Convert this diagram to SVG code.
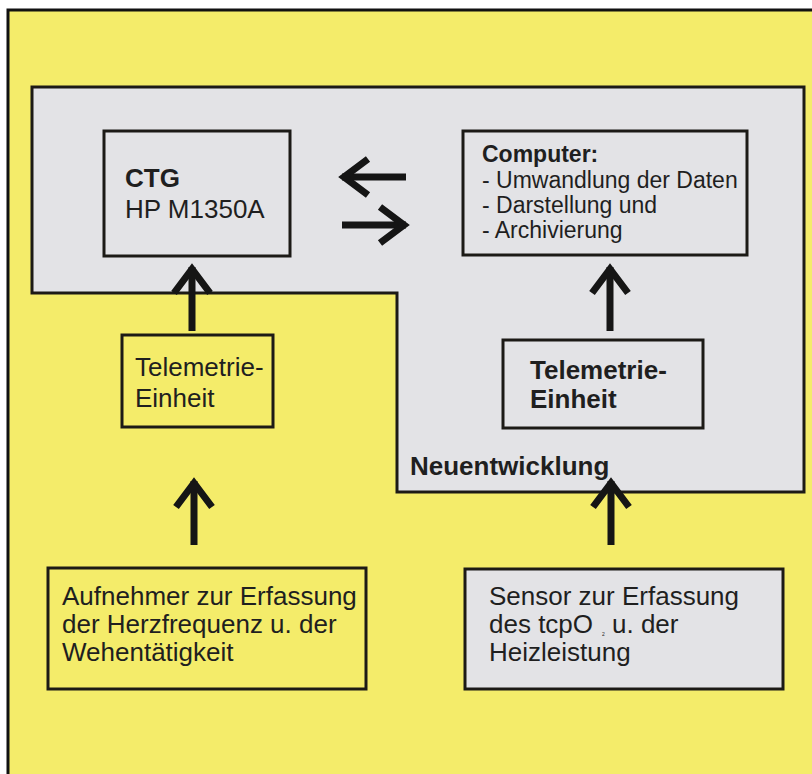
<svg xmlns="http://www.w3.org/2000/svg" xmlns:xlink="http://www.w3.org/1999/xlink" width="812" height="774" viewBox="0 0 812 774">
<style>
.box{stroke:#1c1a16;stroke-width:3;}
.y{fill:#f4ec6a;}
.g{fill:#e3e3e6;}
text{font-family:"Liberation Sans",Arial,sans-serif;fill:#1f1f1f;}
.t{font-size:26px;}
.tb{font-size:26px;font-weight:bold;}
.s{font-size:23px;}
.sb{font-size:23px;font-weight:bold;}
.sub{font-size:5px;}
.arr{stroke:#151515;stroke-width:7;fill:none;stroke-linejoin:miter;stroke-miterlimit:10;}
</style>
<defs>
<g id="arrowUp">
<path class="arr" d="M0,4 L0,68"/>
<path class="arr" d="M-18,30 L0,6 L18,30"/>
</g>
</defs>
<rect x="0" y="0" width="812" height="774" fill="#ffffff"/>
<rect id="background" x="8" y="10" width="812" height="770" class="y" stroke="#111" stroke-width="3"/>
<g id="neuentwicklung">
<path class="box g" d="M32,87 L804,87 L804,492 L397,492 L397,293 L32,293 Z"/>
<text class="tb" x="410" y="475">Neuentwicklung</text>
</g>
<g id="ctg">
<rect class="box g" x="104" y="131" width="186" height="125"/>
<text class="tb" x="125" y="187">CTG</text>
<text class="t" x="125" y="218">HP M1350A</text>
</g>
<g id="computer">
<rect class="box g" x="463" y="131" width="284" height="124"/>
<text class="sb" x="482" y="162">Computer:</text>
<text class="s" x="482" y="188">- Umwandlung der Daten</text>
<text class="s" x="482" y="213">- Darstellung und</text>
<text class="s" x="482" y="238">- Archivierung</text>
</g>
<g id="telemetrie-links">
<rect class="box y" x="122" y="335" width="151" height="92"/>
<text class="t" x="135" y="376">Telemetrie-</text>
<text class="t" x="135" y="407">Einheit</text>
</g>
<g id="telemetrie-rechts">
<rect class="box g" x="503" y="340" width="200" height="88"/>
<text class="tb" x="530" y="379">Telemetrie-</text>
<text class="tb" x="530" y="408">Einheit</text>
</g>
<g id="aufnehmer">
<rect class="box y" x="48" y="568" width="318" height="121"/>
<text class="t" x="62" y="605">Aufnehmer zur Erfassung</text>
<text class="t" x="62" y="633">der Herzfrequenz u. der</text>
<text class="t" x="62" y="661">Wehentätigkeit</text>
</g>
<g id="sensor">
<rect class="box g" x="465" y="569" width="318" height="120"/>
<text class="t" x="489" y="605">Sensor zur Erfassung</text>
<text class="t" x="489" y="633">des tcpO</text>
<text class="sub" x="602" y="636">2</text>
<text class="t" x="612" y="633">u. der</text>
<text class="t" x="489" y="661">Heizleistung</text>
</g>
<g id="connectors">
<use xlink:href="#arrowUp" transform="translate(192,263)"/>
<use xlink:href="#arrowUp" transform="translate(194,477)"/>
<use xlink:href="#arrowUp" transform="translate(610,263)"/>
<use xlink:href="#arrowUp" transform="translate(611,477)"/>
<use xlink:href="#arrowUp" transform="translate(338,177) rotate(-90)"/>
<use xlink:href="#arrowUp" transform="translate(410,225) rotate(90)"/>
</g>
</svg>
